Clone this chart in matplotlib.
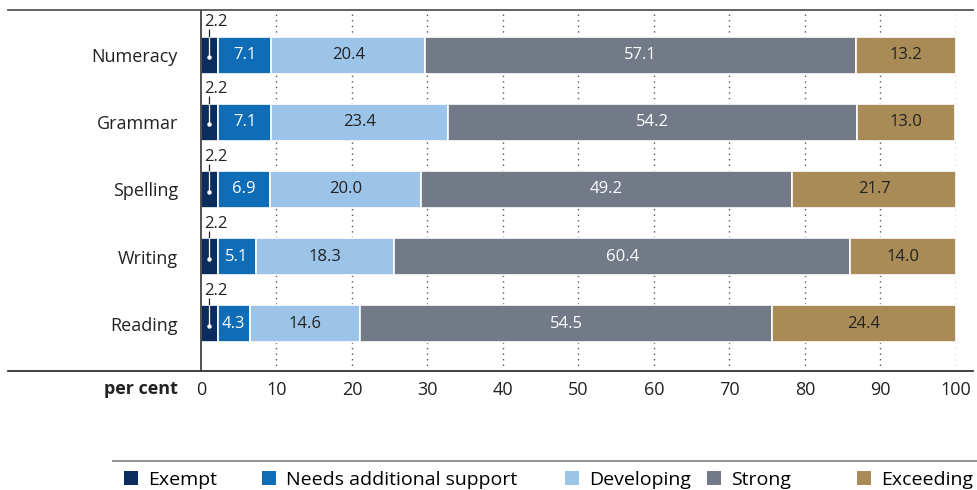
import matplotlib
matplotlib.use("Agg")
import matplotlib.pyplot as plt
from matplotlib.patches import Patch
from matplotlib.lines import Line2D

plt.rcParams['font.family'] = ['Open Sans', 'DejaVu Sans']

categories = ["Reading", "Writing", "Spelling", "Grammar", "Numeracy"]
series_names = ["Exempt", "Needs additional support", "Developing", "Strong", "Exceeding"]
exempt = [2.2, 2.2, 2.2, 2.2, 2.2]
needs = [4.3, 5.1, 6.9, 7.1, 7.1]
developing = [14.6, 18.3, 20.0, 23.4, 20.4]
strong = [54.5, 60.4, 49.2, 54.2, 57.1]
exceeding = [24.4, 14.0, 21.7, 13.0, 13.2]
xticks = [0, 10, 20, 30, 40, 50, 60, 70, 80, 90, 100]

colors = ["#0a2d5e", "#0f6cb6", "#9bc4e8", "#737a87", "#a98b57"]
text_colors = ["white", "white", "#222222", "white", "#222222"]
series = [exempt, needs, developing, strong, exceeding]

W, H = 978, 490
fig = plt.figure(figsize=(W / 100, H / 100), dpi=100)
ax = fig.add_axes([201 / W, 1 - 371 / H, (956 - 201) / W, (371 - 10) / H])

ypos = list(range(len(categories)))
bar_h = 0.55
for x in xticks[1:]:
    ax.axvline(x, color="#555555", linestyle=(0, (1, 3)), linewidth=1.0, zorder=0)

left = [0.0] * len(categories)
for s, vals in enumerate(series):
    ax.barh(ypos, vals, left=left, height=bar_h, color=colors[s],
            edgecolor="white", linewidth=1.2, zorder=2)
    for i, v in enumerate(vals):
        if s == 0:
            y = ypos[i]
            ax.text(left[i] + 0.4, y + 0.49, f"{v:.1f}", ha="left", va="center",
                    fontsize=12, color="#222222", zorder=4)
            ax.plot([left[i] + v / 2, left[i] + v / 2], [y + bar_h / 2 + 0.11, y + bar_h / 2],
                    color="#222222", linewidth=0.9, zorder=4, solid_capstyle="butt")
            ax.plot([left[i] + v / 2, left[i] + v / 2], [y + bar_h / 2, y - 0.03],
                    color="white", linewidth=0.9, zorder=4, solid_capstyle="butt")
            ax.plot([left[i] + v / 2], [y - 0.03], marker="o", markersize=2.2,
                    color="white", zorder=4)
        else:
            ax.text(left[i] + v / 2, ypos[i], f"{v:.1f}", ha="center", va="center",
                    fontsize=12, color=text_colors[s], zorder=4)
    left = [l + v for l, v in zip(left, vals)]

ax.set_xlim(0, 100)
ax.set_ylim(-0.70, 4.67)
ax.set_yticks(ypos)
ax.set_yticklabels(categories, fontsize=13, color="#222222")
ax.set_xticks(xticks)
ax.set_xticklabels([str(t) for t in xticks], fontsize=13, color="#222222")
ax.tick_params(axis="y", length=0, pad=16.5)
ax.tick_params(axis="x", length=0, pad=7)
for sp in ["top", "right", "bottom"]:
    ax.spines[sp].set_visible(False)
ax.spines["left"].set_color("#333333")
ax.spines["left"].set_linewidth(1.2)
ax.spines["left"].set_zorder(5)

# horizontal rules
fig.add_artist(Line2D([8 / W, 973 / W], [1 - 10 / H, 1 - 10 / H], color="#555555", linewidth=1.3))
fig.add_artist(Line2D([8 / W, 973 / W], [1 - 371 / H, 1 - 371 / H], color="#333333", linewidth=1.3))
fig.add_artist(Line2D([113 / W, 978 / W], [1 - 461 / H, 1 - 461 / H], color="#888888", linewidth=1.3))

fig.text(178 / W, 1 - 389 / H, "per cent", ha="right", va="center", fontsize=13,
         fontweight="bold", color="#222222")

legend_x = [124, 262, 565, 707, 857]
for c, name, lx in zip(colors, series_names, legend_x):
    fig.legend([Patch(facecolor=c, edgecolor="none")], [name], loc="center left",
               bbox_to_anchor=(lx / W, 1 - 480 / H), frameon=False, fontsize=14,
               handlelength=0.7, handleheight=0.7, handletextpad=0.55,
               borderaxespad=0, borderpad=0)

fig.savefig("out.png", dpi=100)
